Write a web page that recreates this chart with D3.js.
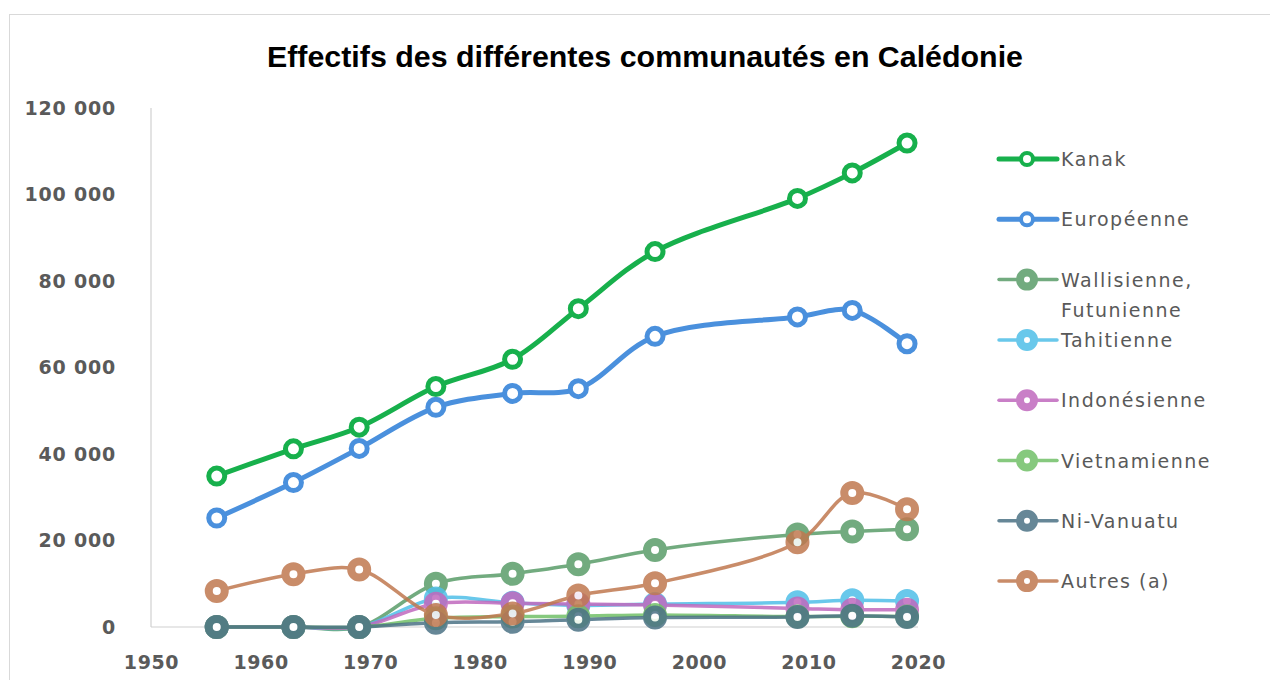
<!DOCTYPE html>
<html><head><meta charset="utf-8">
<script src="https://cdn.jsdelivr.net/npm/d3@7/dist/d3.min.js"></script>
<style>body{margin:0;background:#fff;}svg{display:block;}</style>
</head><body>
<svg id="c" width="1270" height="680"></svg>
<script>
const years = [1956, 1963, 1969, 1976, 1983, 1989, 1996, 2009, 2014, 2019];
const kanak = [34900, 41200, 46200, 55600, 61900, 73600, 86800, 99100, 105000, 111900];
const europeenne = [25200, 33400, 41300, 50800, 54000, 55100, 67200, 71700, 73200, 65500];
const wallisienne = [0, 0, 0, 10000, 12300, 14500, 17800, 21400, 22100, 22600];
const tahitienne = [0, 0, 0, 6600, 5600, 5000, 5300, 5700, 6200, 6000];
const indonesienne = [0, 0, 0, 5400, 5500, 5300, 5100, 4300, 4000, 4000];
const vietnamienne = [0, 0, 0, 2000, 2400, 2500, 2800, 2400, 2500, 2400];
const nivanuatu = [0, 0, 0, 1000, 1200, 1700, 2200, 2300, 2600, 2300];
const autres = [8300, 12200, 13300, 2800, 3100, 7300, 10100, 19600, 31000, 27200];
const yTicks = [0, 20000, 40000, 60000, 80000, 100000, 120000];
const xTicks = [1950, 1960, 1970, 1980, 1990, 2000, 2010, 2020];
const title = "Effectifs des différentes communautés en Calédonie";

const series = [
  {name: ["Kanak"], values: kanak, color: "#17b04c", major: true},
  {name: ["Européenne"], values: europeenne, color: "#4a90dd", major: true},
  {name: ["Wallisienne,", "Futunienne"], values: wallisienne, color: "#5a9d69"},
  {name: ["Tahitienne"], values: tahitienne, color: "#50bfe8"},
  {name: ["Indonésienne"], values: indonesienne, color: "#c069be"},
  {name: ["Vietnamienne"], values: vietnamienne, color: "#72c068"},
  {name: ["Ni-Vanuatu"], values: nivanuatu, color: "#4c7386"},
  {name: ["Autres (a)"], values: autres, color: "#c07850"}
];

const svg = d3.select("#c");
const x = d3.scaleLinear().domain([1950, 2020]).range([151, 918]);
const y = d3.scaleLinear().domain([0, 120000]).range([627, 108]);
const loc = d3.formatLocale({decimal: ",", thousands: " ", grouping: [3], currency: ["", ""]});
const fmt = loc.format(",d");

// frame
svg.append("rect").attr("x", 9.5).attr("y", 14.5).attr("width", 1300).attr("height", 700)
  .attr("fill", "none").attr("stroke", "#d9d9d9");

// title
svg.append("text").attr("x", 645).attr("y", 67).attr("text-anchor", "middle")
  .attr("font-family", "'Liberation Sans Narrow', 'Arial Narrow', 'Liberation Sans', sans-serif")
  .attr("font-weight", "bold").attr("font-size", 29).attr("fill", "#000")
  .attr("textLength", 756).attr("lengthAdjust", "spacingAndGlyphs")
  .text(title);

// axes lines
svg.append("line").attr("x1", x(1950)).attr("x2", x(1950)).attr("y1", y(120000)).attr("y2", y(0))
  .attr("stroke", "#d0d0d0").attr("stroke-width", 1.2);
svg.append("line").attr("x1", x(1950)).attr("x2", x(2020)).attr("y1", y(0)).attr("y2", y(0))
  .attr("stroke", "#d0d0d0").attr("stroke-width", 1.2);

const yAxis = svg.append("g").attr("transform", "translate(116,0)")
  .call(d3.axisLeft(y).tickValues(yTicks).tickSize(0).tickPadding(0).tickFormat(fmt));
yAxis.select(".domain").remove();
yAxis.selectAll("text").attr("font-family", "'DejaVu Sans', sans-serif").attr("font-weight", "bold")
  .attr("font-size", 19).attr("fill", "#5a5a5a").attr("letter-spacing", "0.8px");

const xAxis = svg.append("g").attr("transform", "translate(0,655)")
  .call(d3.axisBottom(x).tickValues(xTicks).tickSize(0).tickPadding(0).tickFormat(d3.format("d")));
xAxis.select(".domain").remove();
xAxis.selectAll("text").attr("font-family", "'DejaVu Sans', sans-serif").attr("font-weight", "bold")
  .attr("font-size", 19).attr("fill", "#5a5a5a").attr("letter-spacing", "0.6px");

const line = d3.line().x((d, i) => x(years[i])).y(d => y(d)).curve(d3.curveCatmullRom.alpha(0.5));

series.forEach(s => {
  const g = svg.append("g").attr("opacity", s.major ? 1 : 0.85);
  g.append("path").datum(s.values).attr("d", line).attr("fill", "none")
    .attr("stroke", s.color).attr("stroke-width", s.major ? 5 : 3.5).attr("stroke-linejoin", "round");
  g.selectAll("circle").data(s.values).join("circle")
    .attr("cx", (d, i) => x(years[i])).attr("cy", d => y(d))
    .attr("r", 8).attr("fill", "#fff").attr("stroke", s.color)
    .attr("stroke-width", s.major ? 5 : 8);
});

// legend
const leg = svg.append("g");
const legY0 = 159, legStep = 60.3;
series.forEach((s, i) => {
  const cy = legY0 + i * legStep;
  const g = leg.append("g").attr("opacity", s.major ? 1 : 0.85);
  g.append("line").attr("x1", 999).attr("x2", 1057).attr("y1", cy).attr("y2", cy)
    .attr("stroke", s.color).attr("stroke-width", s.major ? 5 : 3.5).attr("stroke-linecap", "round");
  g.append("circle").attr("cx", 1027).attr("cy", cy).attr("r", s.major ? 6 : 7)
    .attr("fill", "#fff").attr("stroke", s.color).attr("stroke-width", s.major ? 4 : 8);
  s.name.forEach((t, k) => {
    leg.append("text").attr("x", 1061).attr("y", cy + 7 + k * 30)
      .attr("font-family", "'DejaVu Sans', sans-serif").attr("font-size", 19)
      .attr("fill", "#595959").attr("letter-spacing", "1.5px").text(t);
  });
});
</script>
</body></html>
